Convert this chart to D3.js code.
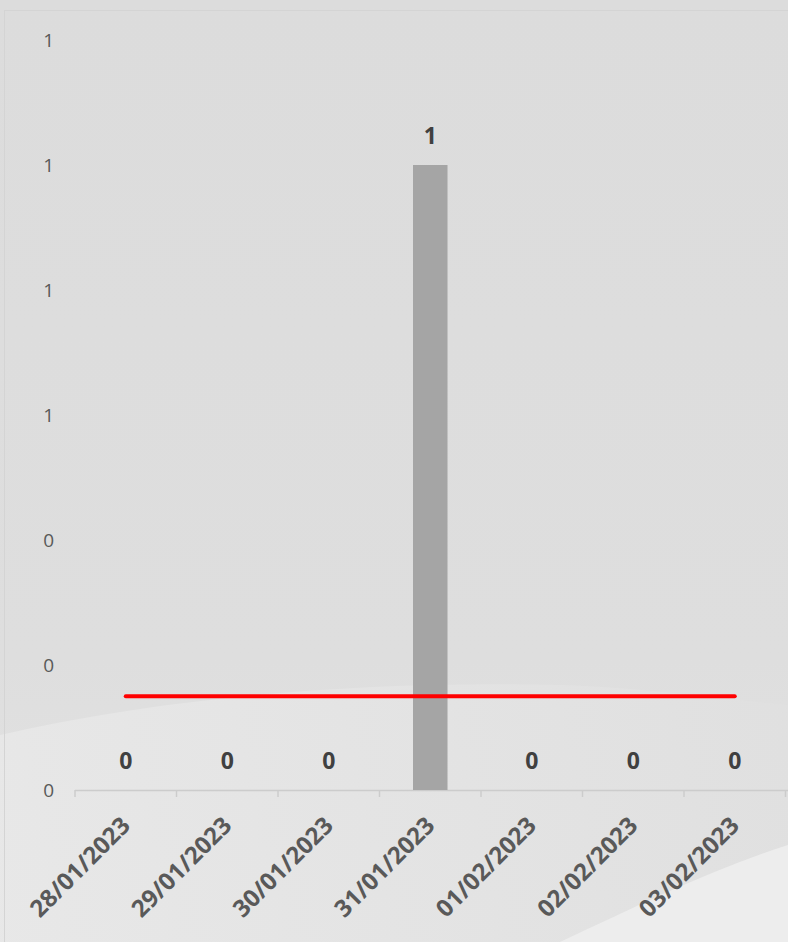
<!DOCTYPE html>
<html>
<head>
<meta charset="utf-8">
<script src="https://cdn.jsdelivr.net/npm/d3@7"></script>
<style>
  html, body { margin: 0; padding: 0; background: #dddddd; }
  svg { display: block; font-family: "Open Sans", "Noto Sans", sans-serif; }
</style>
</head>
<body>
<svg id="chart" width="788" height="942"></svg>
<script>
var dates = ["28/01/2023", "29/01/2023", "30/01/2023", "31/01/2023", "01/02/2023", "02/02/2023", "03/02/2023"];
var counts = [0, 0, 0, 1, 0, 0, 0];
var targetLine = [0.15, 0.15, 0.15, 0.15, 0.15, 0.15, 0.15];
var yTicks = [0, 0.2, 0.4, 0.6, 0.8, 1.0, 1.2];

var width = 788;
var height = 942;
var margin = {top: 40, right: 3, bottom: 152, left: 75};

var svg = d3.select("#chart");

// background
var defs = svg.append("defs");
var grad = defs.append("linearGradient").attr("id", "bg").attr("x1", 0).attr("y1", 0).attr("x2", 0).attr("y2", 1);
grad.append("stop").attr("offset", "0%").attr("stop-color", "#dcdcdc");
grad.append("stop").attr("offset", "70%").attr("stop-color", "#dedede");
grad.append("stop").attr("offset", "100%").attr("stop-color", "#e4e4e4");
var swoosh = defs.append("linearGradient").attr("id", "sw").attr("x1", 0).attr("y1", 0).attr("x2", 1).attr("y2", 0);
swoosh.append("stop").attr("offset", "0%").attr("stop-color", "#e8e8e8");
swoosh.append("stop").attr("offset", "100%").attr("stop-color", "#e0e0e0");

svg.append("rect").attr("width", width).attr("height", height).attr("fill", "url(#bg)");
svg.append("path")
    .attr("d", "M0,735 C150,700 350,680 560,685 C650,688 730,700 788,705 L788,942 L0,942 Z")
    .attr("fill", "url(#sw)").attr("opacity", 0.9);
svg.append("path")
    .attr("d", "M560,942 C640,905 710,870 788,845 L788,942 Z")
    .attr("fill", "#ededed");
svg.append("rect").attr("x", 4.5).attr("y", 10.5).attr("width", width - 4).attr("height", height - 4)
    .attr("fill", "none").attr("stroke", "#d4d4d4");

var x = d3.scaleBand()
    .domain(dates)
    .range([margin.left, margin.left + 7 * 101.5])
    .paddingInner(0.66)
    .paddingOuter(0.33);

var y = d3.scaleLinear()
    .domain([0, 1.2])
    .range([height - margin.bottom, margin.top]);

var g = svg.append("g");

// y axis labels (no line)
var yAxis = d3.axisLeft(y).tickValues(yTicks).tickFormat(d3.format(".0f")).tickSize(0).tickPadding(0);
var yg = g.append("g").attr("transform", "translate(54,0)").call(yAxis);
yg.select(".domain").remove();
yg.attr("font-size", 19).attr("font-family", "\"Open Sans\", sans-serif");
yg.selectAll("text").attr("fill", "#595959");

// x axis
var x0 = y(0);
g.append("line").attr("x1", margin.left).attr("x2", width).attr("y1", x0 + 0.5).attr("y2", x0 + 0.5)
    .attr("stroke", "#cccccc").attr("stroke-width", 1.5);
var bounds = d3.range(dates.length + 1).map(function(i) { return margin.left + i * x.step(); });
g.selectAll("line.tick")
    .data(bounds)
    .enter()
    .append("line")
    .attr("class", "tick")
    .attr("x1", function(d) { return d; })
    .attr("x2", function(d) { return d; })
    .attr("y1", x0)
    .attr("y2", x0 + 7)
    .attr("stroke", "#cccccc").attr("stroke-width", 1.5);

// bars
g.selectAll("rect.bar")
    .data(counts)
    .enter()
    .append("rect")
    .attr("class", "bar")
    .attr("x", function(d, i) { return x(dates[i]); })
    .attr("width", x.bandwidth())
    .attr("y", function(d) { return y(d); })
    .attr("height", function(d) { return y(0) - y(d); })
    .attr("fill", "#a5a5a5");

// red line
var cx = function(i) { return x(dates[i]) + x.bandwidth() / 2; };
var line = d3.line()
    .x(function(d, i) { return cx(i); })
    .y(function(d) { return y(d); });
g.append("path")
    .datum(targetLine)
    .attr("d", line)
    .attr("fill", "none")
    .attr("stroke", "#ff0000")
    .attr("stroke-width", 4)
    .attr("stroke-linecap", "round");

// data labels
g.selectAll("text.lbl")
    .data(counts)
    .enter()
    .append("text")
    .attr("class", "lbl")
    .attr("x", function(d, i) { return cx(i); })
    .attr("y", function(d) { return y(d) - 21; })
    .attr("text-anchor", "middle")
    .attr("font-size", 23)
    .attr("font-weight", "bold")
    .attr("fill", "#404040")
    .text(function(d) { return d3.format(".0f")(d); });

// x labels
g.selectAll("text.xl")
    .data(dates)
    .enter()
    .append("text")
    .attr("class", "xl")
    .attr("transform", function(d, i) { return "translate(" + (cx(i) + 6) + "," + (x0 + 37) + ") rotate(-45)"; })
    .attr("text-anchor", "end")
    .attr("font-size", 24)
    .attr("font-weight", "bold")
    .attr("fill", "#595959")
    .text(function(d) { return d; });
</script>
</body>
</html>
